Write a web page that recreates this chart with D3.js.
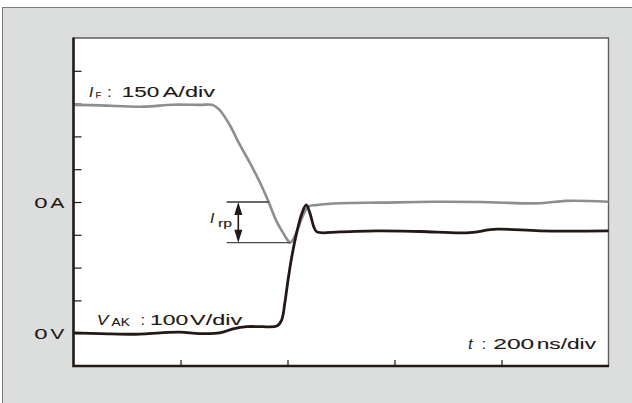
<!DOCTYPE html>
<html>
<head>
<meta charset="utf-8">
<script src="https://cdn.jsdelivr.net/npm/d3@7"></script>
<style>
  html, body { margin: 0; padding: 0; background: #fff; }
  svg { display: block; }
</style>
</head>
<body>
<svg id="chart" width="632" height="403"></svg>
<script>
// Diode reverse-recovery waveform: forward current I_F and anode–cathode voltage V_AK
const currentTimeNs = [0, 50, 130, 186, 236, 260, 273, 292, 311, 330, 349, 364, 380, 392, 401, 405, 410, 420, 428, 439, 455, 498, 573, 672, 760, 872, 920, 1000];
const currentA      = [444, 442, 436, 445, 444, 444, 421, 352, 261, 178, 87, 5, -91, -142, -177, -186, -174, -119, -67, -21, -14, -6, -3, 1, 0, -6, 5, 1];

const voltageTimeNs = [0, 50, 124, 162, 199, 236, 273, 298, 324, 352, 380, 389, 395, 401, 408, 417, 427, 435, 442, 449, 455, 498, 567, 648, 735, 791, 872, 1000];
const voltageV      = [1, -1, -3, 1, 3, -1, 1, 13, 20, 20, 22, 40, 92, 162, 233, 305, 366, 391, 366, 325, 309, 309, 312, 310, 306, 317, 312, 312];

const timeTicksNs   = [200, 400, 600, 800];
const divisionTicks = [1, 2, 3, 4, 5, 6, 7, 8, 9];
const zeroLabelUnits = ["A", "V"];

const ink = "#231815";
const font = "'Liberation Sans', Arial, sans-serif";

const svg = d3.select("#chart");

// Grey panel
svg.append("rect")
  .attr("x", 2.5).attr("y", 7.5).attr("width", 660).attr("height", 420)
  .attr("fill", "#dcdddd").attr("stroke", "#7a7a7a").attr("stroke-width", 1);

// Scales: 5 time divisions of 200 ns, 10 vertical divisions
const plot = { left: 73.5, right: 608.5, top: 38, bottom: 366 };
const x = d3.scaleLinear().domain([0, 1000]).range([plot.left, plot.right]);
const yDiv = d3.scaleLinear().domain([0, 10]).range([plot.bottom, plot.top]);
const yI = d3.scaleLinear().domain([-750, 750]).range([plot.bottom, plot.top]);   // 150 A/div
const yV = d3.scaleLinear().domain([-100, 900]).range([plot.bottom, plot.top]);   // 100 V/div

// Plot area
svg.append("rect")
  .attr("x", plot.left).attr("y", plot.top)
  .attr("width", plot.right - plot.left).attr("height", plot.bottom - plot.top)
  .attr("fill", "#fff");

// Top and right border
svg.append("path")
  .attr("d", `M${plot.left},${plot.top}H${plot.right}V${plot.bottom}`)
  .attr("fill", "none").attr("stroke", "#5e5e5e").attr("stroke-width", 1.4);

// Division ticks (inward)
const leftAxis = svg.append("g")
  .attr("transform", `translate(${plot.left},0)`)
  .call(d3.axisLeft(yDiv).tickValues(divisionTicks).tickSize(-8).tickFormat(""));
const bottomAxis = svg.append("g")
  .attr("transform", `translate(0,${plot.bottom})`)
  .call(d3.axisBottom(x).tickValues(timeTicksNs).tickSize(-6).tickFormat(""));
[leftAxis, bottomAxis].forEach(g => {
  g.select(".domain").remove();
  g.selectAll(".tick line").attr("stroke", ink).attr("stroke-width", 1.2);
});

// Traces
const curve = d3.curveCatmullRom.alpha(0.5);
const currentPts = currentTimeNs.map((t, i) => [t, currentA[i]]);
const voltagePts = voltageTimeNs.map((t, i) => [t, voltageV[i]]);

svg.append("path")
  .datum(currentPts)
  .attr("d", d3.line().x(d => x(d[0])).y(d => yI(d[1])).curve(curve))
  .attr("fill", "none").attr("stroke", "#8e8e8e").attr("stroke-width", 2.6)
  .attr("stroke-linejoin", "round");

// Reverse recovery current annotation
const irpIndex = d3.minIndex(currentA);
const irp = currentA[irpIndex];
let zeroCrossT = 0;
for (let i = 1; i < currentA.length; i++) {
  if (currentA[i - 1] > 0 && currentA[i] <= 0) {
    zeroCrossT = currentTimeNs[i - 1] + (currentTimeNs[i] - currentTimeNs[i - 1]) * currentA[i - 1] / (currentA[i - 1] - currentA[i]);
    break;
  }
}
const annLeft = 226.7;
const arrowX = 238.3;
svg.append("line")
  .attr("x1", annLeft).attr("x2", x(zeroCrossT))
  .attr("y1", yI(0)).attr("y2", yI(0))
  .attr("stroke", "#333").attr("stroke-width", 1.4);
svg.append("line")
  .attr("x1", annLeft).attr("x2", x(currentTimeNs[irpIndex]))
  .attr("y1", yI(irp)).attr("y2", yI(irp))
  .attr("stroke", "#4a4a4a").attr("stroke-width", 1.4);
svg.append("line")
  .attr("x1", arrowX).attr("x2", arrowX)
  .attr("y1", yI(0) + 6).attr("y2", yI(irp) - 6)
  .attr("stroke", ink).attr("stroke-width", 1.6);
const head = 13, half = 4;
svg.append("path")
  .attr("d", `M${arrowX},${yI(0)}L${arrowX - half},${yI(0) + head}L${arrowX + half},${yI(0) + head}Z`)
  .attr("fill", ink);
svg.append("path")
  .attr("d", `M${arrowX},${yI(irp)}L${arrowX - half},${yI(irp) - head}L${arrowX + half},${yI(irp) - head}Z`)
  .attr("fill", ink);

svg.append("path")
  .datum(voltagePts)
  .attr("d", d3.line().x(d => x(d[0])).y(d => yV(d[1])).curve(curve))
  .attr("fill", "none").attr("stroke", ink).attr("stroke-width", 2.8)
  .attr("stroke-linejoin", "round");

// Left and bottom axis lines
svg.append("path")
  .attr("d", `M${plot.left},${plot.top - 0.5}V${plot.bottom}H${plot.right + 0.5}`)
  .attr("fill", "none").attr("stroke", ink).attr("stroke-width", 2.6);

// Text helper: each piece is placed and fitted to its own width
function piece(str, px, py, opts = {}) {
  const t = svg.append("text")
    .attr("x", px).attr("y", py)
    .attr("font-family", font)
    .attr("font-size", opts.size || 15)
    .attr("fill", ink)
    .attr("stroke", ink).attr("stroke-width", 0.1)
    .text(str);
  if (opts.italic) t.attr("font-style", "italic");
  if (opts.width) t.attr("textLength", opts.width).attr("lengthAdjust", "spacingAndGlyphs");
  return t;
}

// Zero-level labels
const zeroY = [yI(0), yV(0)];
zeroLabelUnits.forEach((u, i) => {
  piece("0", 34.3, zeroY[i] + 5.5, { width: 13.3 });
  piece(u, 50.4, zeroY[i] + 5.5, { width: 13.8 });
});

// I_F : 150 A/div
piece("I", 89, 96.7, { italic: true, size: 15.5 });
piece("F", 95.5, 97.6, { size: 9.5 });
piece(":", 107.3, 96.7);
piece("150", 121.7, 96.7, { width: 37.6 });
piece("A/div", 162.7, 96.7, { width: 52.3 });

// V_AK : 100 V/div
piece("V", 96.7, 325, { italic: true, width: 11.6 });
piece("AK", 111.5, 326, { size: 10.5, width: 18.3 });
piece(":", 140.8, 325);
piece("100", 150, 325, { width: 38.3 });
piece("V/div", 190, 325, { width: 52.3 });

// t : 200 ns/div
piece("t", 468.3, 349.3, { italic: true });
piece(":", 481.8, 349.3);
piece("200", 493.3, 349.3, { width: 41 });
piece("ns/div", 536.7, 349.3, { width: 59.3 });

// I_rp
piece("I", 210, 223, { italic: true, size: 15.5 });
piece("rp", 218, 226.5, { size: 11, width: 14 });
</script>
</body>
</html>
